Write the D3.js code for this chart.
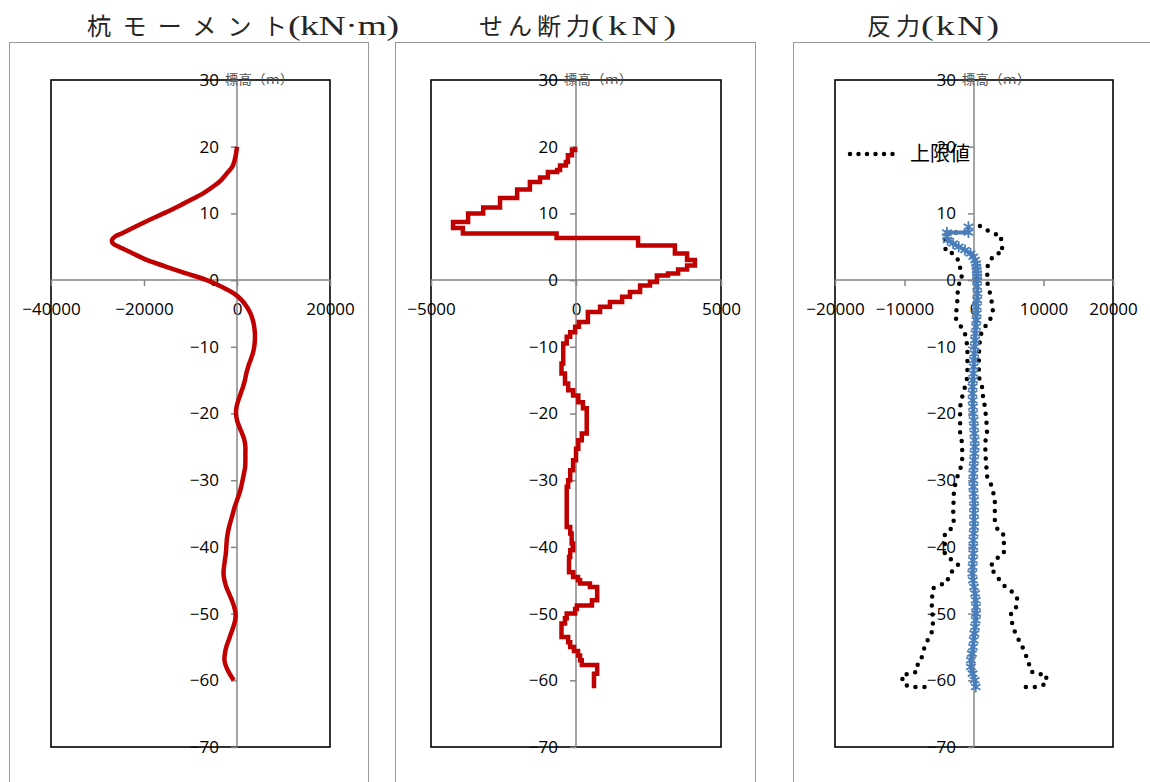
<!DOCTYPE html>
<html>
<head>
<meta charset="utf-8">
<script src="https://cdn.jsdelivr.net/npm/d3@7"></script>
<style>
body { margin: 0; background: #fff; }
svg { display: block; }
.tick text { font-family: "Open Sans", "Liberation Sans", sans-serif; font-size: 17px; fill: #000; }
</style>
</head>
<body>
<div id="chart"></div>
<script>
// ---- data ----
const yTicks = [30, 20, 10, 0, -10, -20, -30, -40, -50, -60, -70]

// moment (kN·m) vs elevation (m)
const momentDepth = [20, 19, 18, 17, 16, 15, 14, 13, 12, 11, 10, 9, 8, 7, 6.5, 6, 5.5, 5, 4, 3, 2, 1, 0,
  -1, -2, -3, -4, -5, -6, -7, -8, -9, -10, -11, -12, -13, -14, -15, -16, -17, -18, -19, -20,
  -21, -22, -23, -24, -25, -26, -27, -28, -29, -30, -31, -32, -33, -34, -35, -36, -37, -38, -39, -40,
  -41, -42, -43, -44, -45, -46, -47, -48, -49, -50, -51, -52, -53, -54, -55, -56, -57, -58, -59, -60]
const momentValue = [0, -200, -500, -1000, -2200, -3400, -5200, -7300, -10000, -12800, -15800, -18900, -21900, -24800, -26300, -26900, -26700, -25400, -22400, -19300, -15200, -10900, -6500,
  -3300, -700, 1000, 2100, 2900, 3400, 3700, 3850, 3850, 3700, 3400, 2900, 2400, 2000, 1700, 1300, 800, 300, -100, -200,
  0, 500, 1100, 1600, 1800, 1800, 1800, 1750, 1500, 1200, 900, 500, 0, -500, -900, -1300, -1700, -2000, -2200, -2300,
  -2400, -2600, -2800, -2900, -2700, -2300, -1700, -1100, -600, -300, -400, -800, -1300, -1800, -2300, -2600, -2700, -2300, -1600, -700]

// shear (kN): element boundaries (elevation) and element values
const shearBounds = [20, 19.5, 18.7, 17.7, 17.2, 16.5, 16.2, 15.4, 14.7, 13.6, 12.3, 10.9, 10.0, 8.7, 7.8, 7.0, 6.3, 5.2, 4.0, 3.0,
  2.2, 1.6, 1.0, 0.7, -0.3, -0.8, -1.8, -2.5, -3.3, -4.0, -4.8, -6.3, -7.0, -7.8, -8.5, -9.5, -12.5, -14.0, -15.5, -16.5,
  -17.3, -18.3, -19.2, -23.0, -24.0, -25.3, -27.0, -28.5, -30.0, -31.0, -37.0, -38.0, -39.5, -40.5, -41.5, -43.8, -44.5, -45.0, -45.5, -46.0,
  -48.0, -48.8, -49.3, -50.0, -50.7, -51.5, -53.5, -54.3, -55.0, -55.6, -56.3, -57.0, -57.7, -59.0, -61.2]
const shearValue = [-30, -140, -280, -350, -550, -650, -970, -1240, -1590, -2030, -2620, -3200, -3720, -4240, -3900, -670, 2140, 3410, 3830, 4100,
  3830, 3520, 3170, 2790, 2550, 2210, 1860, 1590, 1170, 830, 410, 100, -30, -200, -320, -440, -500, -380, -270, -100,
  80, 240, 370, 200, 80, 0, -100, -200, -270, -320, -200, -150, -100, -200, -240, -100, 70, 140, 480, 730,
  550, 30, -30, -320, -380, -500, -270, -200, -70, 70, 140, 200, 730, 620]

// reaction (kN)
const reactDepth = [8.0, 7.15, 7.15, 6.5, 6.0, 5.5, 5.0, 4.5, 4.0, 3.5, 3.0, 2.5, 2, 1.5, 1, 0.5, 0,
  -1, -2, -3, -4, -5, -6, -7, -8, -9, -10, -11, -12, -13, -14, -15, -16, -17, -18, -19, -20,
  -21, -22, -23, -24, -25, -26, -27, -28, -29, -30, -31, -32, -33, -34, -35, -36, -37, -38, -39, -40,
  -41, -42, -43, -44, -45, -46, -47, -48, -49, -50, -51, -52, -53, -54, -55, -56, -57, -58, -59, -60, -61]
const reactValue = [-800, -800, -3900, -3900, -3800, -3000, -2200, -1300, -500, -100, 150, 300, 350, 400, 450, 450, 450,
  450, 500, 450, 400, 400, 350, 300, 200, 150, 100, 50, 0, -50, -100, -150, -200, -200, -200, -150, -100,
  -50, 0, 50, 100, 100, 50, 0, -50, -100, -100, -100, -50, 0, 0, 0, 0, 0, -50, -100, -100,
  -100, -150, -200, -250, -150, 0, 150, 250, 300, 300, 250, 150, 50, -50, -150, -300, -450, -450, -200, 100, 250]

// upper limit of reaction (上限値), right and left branches
const limitRightDepth = [8.1, 7.0, 6.7, 5.4, 4.2, 3.9, 2.5, 1.0, -0.5, -2.0, -3.5, -5.0, -6.5, -7.5, -9.0, -11.0, -14.5, -16.0, -17.5, -19.2,
  -22.5, -24.5, -27.0, -29.5, -31.0, -33.0, -36.0, -37.8, -38.2, -41.0, -41.8, -43.0, -44.0, -45.0, -46.0, -46.8, -47.7, -49.0, -49.8, -51.5,
  -52.8, -53.7, -54.7, -55.8, -56.7, -57.5, -58.6, -59.1, -59.1, -60.5, -61.0, -61.0]
const limitRightValue = [850, 2700, 3900, 3900, 4200, 3000, 2000, 1900, 1950, 2300, 2600, 2750, 2000, 1150, 850, 700, 700, 1150, 1300, 1600,
  1900, 1600, 1700, 1900, 2600, 3000, 3000, 3500, 4300, 4300, 3200, 2300, 3000, 3700, 4500, 5600, 6200, 6100, 5300, 5500,
  5900, 6300, 6900, 7200, 7700, 7900, 8100, 9000, 10400, 10400, 9200, 6500]
const limitLeftDepth = [7.15, 7.15, 4.3, 4.0, 2.6, 1.1, 0.1, -0.75, -4.2, -5.5, -7.2, -8.0, -9.3, -10.5, -14.5, -16.0, -17.5, -19.0, -23.0, -24.5,
  -27.0, -28.5, -30.0, -31.8, -35.2, -36.4, -37.5, -38.0, -41.0, -42.0, -42.7, -43.5, -44.2, -45.4, -45.7, -46.2, -48.4, -51.0, -52.5, -53.8,
  -55.3, -56.5, -57.4, -58.6, -59.1, -59.1, -60.4, -61.0, -61.0]
const limitLeftValue = [-1300, -4100, -4100, -3000, -2000, -2000, -1600, -2300, -2450, -2750, -1750, -1300, -1050, -950, -950, -1300, -1700, -2000, -2000, -1700,
  -1700, -2000, -2600, -2900, -3000, -2900, -3450, -4200, -4200, -3200, -2300, -3000, -3600, -3900, -4900, -5900, -6100, -5900, -5950, -6600,
  -7200, -7500, -8100, -8100, -9000, -10300, -10300, -9300, -6500]

// ---- layout ----
const W = 1150, H = 782
const plotTop = 80, plotBottom = 747
const panels = [
  { frame: [9, 368], x0: 51, x1: 330, domain: [-40000, 20000], ticks: [-40000, -20000, 0, 20000],
    title: ["杭モーメント", "(kN·m)"], tx: 87, tw: [200, 113] },
  { frame: [395, 755], x0: 431, x1: 721, domain: [-5000, 5000], ticks: [-5000, 0, 5000],
    title: ["せん断力", "(kN)"], tx: 479, tw: [111, 87] },
  { frame: [793, 1160], x0: 835, x1: 1113, domain: [-20000, 20000], ticks: [-20000, -10000, 0, 10000, 20000],
    title: ["反力", "(kN)"], tx: 867, tw: [53, 80] }
]

const svg = d3.select("#chart").append("svg")
  .attr("width", W).attr("height", H)

const y = d3.scaleLinear().domain([-70, 30]).range([plotBottom, plotTop])

const scales = panels.map(p => {
  const x = d3.scaleLinear().domain(p.domain).range([p.x0, p.x1])

  // outer chart frame
  svg.append("rect")
    .attr("x", p.frame[0] + 0.5).attr("y", 42.5)
    .attr("width", p.frame[1] - p.frame[0]).attr("height", 800)
    .attr("fill", "none").attr("stroke", "#9a9a9a").attr("stroke-width", 1)

  // title: CJK part, then a widened serif part (full-width look)
  svg.append("text")
    .attr("x", p.tx).attr("y", 35)
    .attr("fill", "#262626")
    .attr("font-family", "'Noto Sans CJK JP', sans-serif")
    .attr("font-size", 24)
    .attr("textLength", p.tw[0]).attr("lengthAdjust", "spacing")
    .text(p.title[0])
  const sx = 1.4
  svg.append("text")
    .attr("transform", "translate(" + (p.tx + p.tw[0] + 1) + ",35) scale(" + sx + ",1)")
    .attr("fill", "#262626")
    .attr("font-family", "'Liberation Serif', serif")
    .attr("font-size", 27)
    .attr("textLength", (p.tw[1] - 2) / sx).attr("lengthAdjust", "spacing")
    .text(p.title[1])

  // plot area border
  svg.append("rect")
    .attr("x", p.x0).attr("y", plotTop)
    .attr("width", p.x1 - p.x0).attr("height", plotBottom - plotTop)
    .attr("fill", "none").attr("stroke", "#000").attr("stroke-width", 1.6)

  // x axis through elevation 0
  const gx = svg.append("g")
    .attr("transform", "translate(0," + y(0) + ")")
    .call(d3.axisBottom(x).tickValues(p.ticks).tickSize(6).tickPadding(17).tickFormat(d3.format("d")))
  gx.select(".domain").remove()
  gx.selectAll(".tick line").attr("stroke", "#868686").attr("stroke-width", 1.5)
  gx.append("line")
    .attr("x1", p.x0).attr("x2", p.x1)
    .attr("stroke", "#868686").attr("stroke-width", 1.5)

  // y axis through value 0
  const gy = svg.append("g")
    .attr("transform", "translate(" + x(0) + ",0)")
    .call(d3.axisLeft(y).tickValues(yTicks).tickSize(6).tickPadding(12))
  gy.select(".domain").remove()
  gy.selectAll(".tick line").attr("stroke", "#868686").attr("stroke-width", 1.5)
  gy.append("line")
    .attr("y1", plotTop).attr("y2", plotBottom)
    .attr("stroke", "#868686").attr("stroke-width", 1.5)

  // axis title
  svg.append("text")
    .attr("x", x(0) - 12).attr("y", 84)
    .attr("font-family", "'Noto Sans CJK JP', sans-serif")
    .attr("font-size", 13)
    .attr("fill", "#4d4d4d")
    .attr("textLength", 68).attr("lengthAdjust", "spacing")
    .text("標高（ｍ）")

  return x
})

// ---- moment ----
const xm = scales[0]
const momentLine = d3.line()
  .x((d, i) => xm(momentValue[i]))
  .y((d, i) => y(momentDepth[i]))
  .curve(d3.curveCatmullRom)
svg.append("path")
  .attr("d", momentLine(momentDepth))
  .attr("fill", "none").attr("stroke", "#c00000").attr("stroke-width", 4.5)
  .attr("stroke-linejoin", "round")

// ---- shear (stepped) ----
const xs = scales[1]
const shearPts = []
shearValue.forEach((v, i) => {
  shearPts.push([v, shearBounds[i]])
  shearPts.push([v, shearBounds[i + 1]])
})
svg.append("path")
  .attr("d", d3.line().x(d => xs(d[0])).y(d => y(d[1]))(shearPts))
  .attr("fill", "none").attr("stroke", "#c00000").attr("stroke-width", 4.5)
  .attr("stroke-linejoin", "miter")

// ---- reaction ----
const xr = scales[2]
const dotted = (dep, val) => d3.line().x((d, i) => xr(val[i])).y((d, i) => y(dep[i]))(dep)
;[[limitRightDepth, limitRightValue], [limitLeftDepth, limitLeftValue]].forEach(([dep, val]) => {
  svg.append("path")
    .attr("d", dotted(dep, val))
    .attr("fill", "none").attr("stroke", "#000").attr("stroke-width", 4.5)
    .attr("stroke-linecap", "round").attr("stroke-dasharray", "0 9")
})

svg.append("path")
  .attr("d", d3.line().x((d, i) => xr(reactValue[i])).y((d, i) => y(reactDepth[i]))(reactDepth))
  .attr("fill", "none").attr("stroke", "#4a7ebb").attr("stroke-width", 4)

const star = d3.symbol().type(d3.symbolAsterisk || d3.symbolTimes).size(85)
svg.append("g").selectAll("path")
  .data(reactDepth)
  .join("path")
  .attr("transform", (d, i) => "translate(" + xr(reactValue[i]) + "," + y(d) + ")")
  .attr("d", star)
  .attr("fill", "none").attr("stroke", "#4a7ebb").attr("stroke-width", 1.8)

// legend
svg.append("line")
  .attr("x1", 850).attr("x2", 901).attr("y1", 154).attr("y2", 154)
  .attr("stroke", "#000").attr("stroke-width", 4.5)
  .attr("stroke-linecap", "round").attr("stroke-dasharray", "0 8.5")
svg.append("text")
  .attr("x", 910).attr("y", 161)
  .attr("font-family", "'Noto Sans CJK JP', sans-serif")
  .attr("font-size", 20)
  .attr("fill", "#000")
  .text("上限値")
</script>
</body>
</html>
